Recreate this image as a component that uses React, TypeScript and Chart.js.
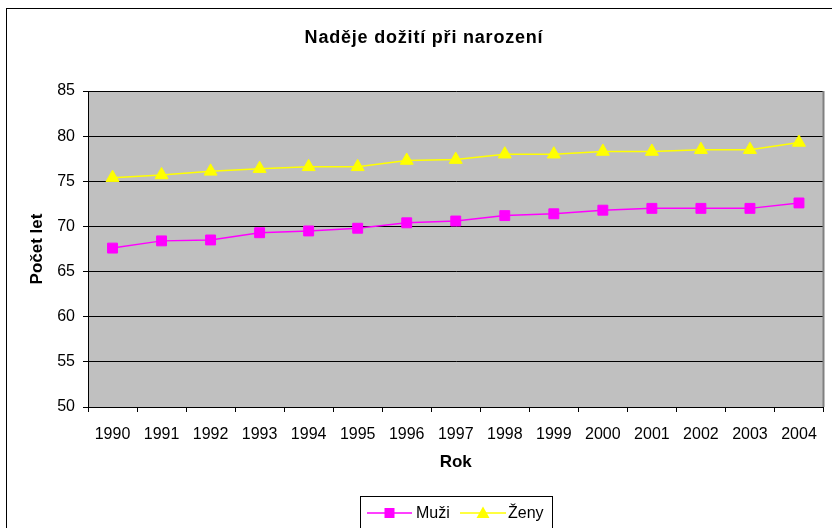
import React, { useEffect, useRef } from 'react';
import { Chart, registerables } from 'chart.js';

Chart.register(...registerables);

const years = ['1990', '1991', '1992', '1993', '1994', '1995', '1996', '1997', '1998', '1999', '2000', '2001', '2002', '2003', '2004'];
const muzi = [67.6, 68.4, 68.5, 69.3, 69.5, 69.8, 70.4, 70.6, 71.2, 71.4, 71.8, 72.0, 72.0, 72.0, 72.6];
const zeny = [75.4, 75.7, 76.1, 76.4, 76.6, 76.6, 77.3, 77.4, 78.0, 78.0, 78.3, 78.3, 78.5, 78.5, 79.3];
const chartTitle = 'Naděje dožití při narození';
const yAxisTitle = 'Počet let';
const xAxisTitle = 'Rok';
const seriesNames = ['Muži', 'Ženy'];
const yMin = 50;
const yMax = 85;
const yStep = 5;

const FONT = 'Arial, "Liberation Sans", sans-serif';

function drawMarker(ctx: CanvasRenderingContext2D, style: string, x: number, y: number, fill: string) {
  ctx.fillStyle = fill;
  ctx.beginPath();
  if (style === 'rect') {
    ctx.rect(x - 5, y - 5, 10, 10);
  } else {
    ctx.moveTo(x, y - 6.5);
    ctx.lineTo(x + 6.5, y + 5);
    ctx.lineTo(x - 6.5, y + 5);
    ctx.closePath();
  }
  ctx.fill();
}

const decorPlugin = {
  id: 'decor',
  beforeDraw(chart: any) {
    const { ctx, chartArea } = chart;
    ctx.save();
    ctx.fillStyle = '#ffffff';
    ctx.fillRect(0, 0, chart.width, chart.height);
    ctx.fillStyle = '#C0C0C0';
    ctx.fillRect(chartArea.left, chartArea.top, chartArea.right - chartArea.left, chartArea.bottom - chartArea.top);
    ctx.strokeStyle = '#000000';
    ctx.lineWidth = 1;
    ctx.strokeRect(6.5, 8.5, 1000, 1000);
    ctx.restore();
  },
  beforeDatasetsDraw(chart: any) {
    const { ctx, chartArea } = chart;
    ctx.save();
    ctx.strokeStyle = '#808080';
    ctx.lineWidth = 2;
    ctx.beginPath();
    ctx.moveTo(chartArea.right, chartArea.top);
    ctx.lineTo(chartArea.right, chartArea.bottom);
    ctx.stroke();
    ctx.restore();
  },
  afterDraw(chart: any) {
    const { ctx } = chart;
    ctx.save();
    // title
    ctx.fillStyle = '#000';
    ctx.font = `bold 18px ${FONT}`;
    try { (ctx as any).letterSpacing = '0.8px'; } catch (e) {}
    ctx.textAlign = 'center';
    ctx.textBaseline = 'middle';
    ctx.fillText(chartTitle, 424, 38);
    try { (ctx as any).letterSpacing = '0px'; } catch (e) {}

    // legend box
    ctx.strokeStyle = '#000';
    ctx.lineWidth = 1;
    ctx.strokeRect(360.5, 496.5, 192, 60);
    const cy = 513;
    const items = [
      { x0: 367, x1: 412, tx: 416 },
      { x0: 460, x1: 506, tx: 508 },
    ];
    chart.data.datasets.forEach((ds: any, i: number) => {
      const it = items[i];
      ctx.strokeStyle = ds.borderColor;
      ctx.lineWidth = 1.5;
      ctx.beginPath();
      ctx.moveTo(it.x0, cy);
      ctx.lineTo(it.x1, cy);
      ctx.stroke();
      drawMarker(ctx, ds.pointStyle, (it.x0 + it.x1) / 2, cy, ds.pointBackgroundColor);
      ctx.fillStyle = '#000';
      ctx.font = `16px ${FONT}`;
      ctx.textAlign = 'left';
      ctx.textBaseline = 'middle';
      ctx.fillText(ds.label, it.tx, cy + 1);
    });
    ctx.restore();
  },
};

export default function App() {
  const ref = useRef<HTMLCanvasElement>(null);
  useEffect(() => {
    if (!ref.current) return;
    const chart = new Chart(ref.current, {
      type: 'line',
      data: {
        labels: years,
        datasets: [
          {
            label: seriesNames[0],
            data: muzi,
            borderColor: '#FF00FF',
            backgroundColor: '#FF00FF',
            pointBackgroundColor: '#FF00FF',
            pointBorderColor: '#FF00FF',
            pointStyle: 'rect',
            pointRadius: 7,
            pointBorderWidth: 1,
            borderWidth: 1.5,
            tension: 0,
          },
          {
            label: seriesNames[1],
            data: zeny,
            borderColor: '#FFFF00',
            backgroundColor: '#FFFF00',
            pointBackgroundColor: '#FFFF00',
            pointBorderColor: '#FFFF00',
            pointStyle: 'triangle',
            pointRadius: 7.5,
            pointBorderWidth: 1,
            borderWidth: 1.5,
            tension: 0,
          },
        ],
      },
      options: {
        animation: false,
        responsive: false,
        layout: { padding: { top: 91, right: 5, bottom: 0, left: 0 } },
        plugins: {
          legend: { display: false },
          title: { display: false },
          tooltip: { enabled: false },
        },
        scales: {
          x: {
            type: 'category',
            offset: true,
            grid: { offset: true, drawOnChartArea: false, drawTicks: true, tickLength: 5, color: '#000' },
            border: { color: '#000', width: 1 },
            ticks: { color: '#000', font: { family: FONT, size: 16 }, padding: 13, maxRotation: 0, autoSkip: false },
            title: {
              display: true,
              text: xAxisTitle,
              color: '#000',
              font: { family: FONT, size: 17, weight: 'bold' },
              padding: { top: 0, bottom: 55 },
            },
            afterFit: (s: any) => { s.height = 121; },
          },
          y: {
            min: yMin,
            max: yMax,
            ticks: { stepSize: yStep, color: '#000', font: { family: FONT, size: 16 }, padding: 8 },
            grid: { color: '#000', tickLength: 5 },
            border: { color: '#000', width: 1 },
            title: {
              display: true,
              text: yAxisTitle,
              color: '#000',
              font: { family: FONT, size: 17, weight: 'bold' },
              padding: { top: 27, bottom: 0 },
            },
            afterFit: (s: any) => { s.width = 88; },
          },
        },
      },
      plugins: [decorPlugin],
    } as any);
    return () => chart.destroy();
  }, []);
  return (
    <div style={{ position: 'absolute', left: 0, top: 0, width: 832, height: 528 }}>
      <canvas ref={ref} width={832} height={528} style={{ display: 'block' }} />
    </div>
  );
}
